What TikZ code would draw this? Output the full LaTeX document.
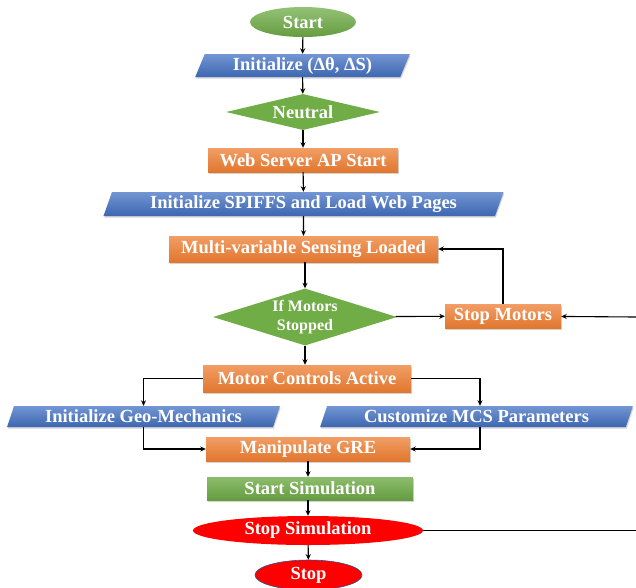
\documentclass[tikz,border=0pt]{standalone}
\usepackage{fontspec}
\setmainfont{Liberation Serif}
\usetikzlibrary{shapes.geometric,arrows.meta,shadows}
\definecolor{cgreen}{HTML}{70AD47}
\definecolor{cblue}{HTML}{4472C4}
\definecolor{corange}{HTML}{ED7D31}
\definecolor{cred}{HTML}{FF0000}
\tikzset{
  lbl/.style={text=white, font=\bfseries\fontsize{18.5}{20}\selectfont, inner sep=0pt},
  shad/.style={drop shadow={opacity=0.35, shadow xshift=0.8pt, shadow yshift=-1.5pt}},
  gbox/.style={lbl, shad, rectangle, top color=cgreen!80!white, bottom color=cgreen!90!black},
  obox/.style={lbl, shad, rectangle, top color=corange!75!white, bottom color=corange!95!black},
  para/.style={lbl, shad, trapezium, trapezium stretches=true, trapezium left angle=68, trapezium right angle=112, top color=cblue!75!white, bottom color=cblue!90!black},
  gdia/.style={lbl, diamond, fill=cgreen},
  gell/.style={lbl, ellipse, top color=cgreen!75!white, bottom color=cgreen!90!black},
  rell/.style={lbl, ellipse, fill=cred},
  arr/.style={draw=black, line width=1.1pt, -{Stealth[length=5.5pt,width=5pt]}},
  ln/.style={draw=black, line width=1.1pt}
}
\begin{document}
\begin{tikzpicture}[x=1pt,y=-1pt]
\useasboundingbox (0,0) rectangle (636,587);
\node[gell, minimum width=106, minimum height=30] (start) at (303,22) {Start};
\node[para, minimum width=215, minimum height=23] (init) at (302.5,65.5) {Initialize (Δθ, ΔS)};
\node[gdia, minimum width=154, minimum height=36, aspect=4.3] (neutral) at (303,112) {Neutral};
\node[obox, minimum width=190, minimum height=24] (web) at (303,160) {Web Server AP Start};
\node[para, minimum width=401, minimum height=24] (spiffs) at (303.5,204) {Initialize SPIFFS and Load Web Pages};
\node[obox, minimum width=269, minimum height=26] (multi) at (303.5,249) {Multi-variable Sensing Loaded};
\node[gdia, minimum width=184, minimum height=57, aspect=3.2, align=center, font=\bfseries\fontsize{16}{19}\selectfont] (ifm) at (305,317) {If Motors\\Stopped};
\node[obox, minimum width=116, minimum height=24] (stopm) at (503,316) {Stop Motors};
\node[obox, minimum width=208, minimum height=27] (mca) at (307,378.5) {Motor Controls Active};
\node[para, minimum width=273, minimum height=21] (geo) at (143.5,416.5) {Initialize Geo-Mechanics};
\node[para, minimum width=313, minimum height=21] (mcs) at (476.5,416.5) {Customize MCS Parameters};
\node[obox, minimum width=204, minimum height=24] (gre) at (308,449) {Manipulate GRE};
\node[gbox, minimum width=206, minimum height=23] (sim) at (310,488.5) {Start Simulation};
\node[rell, minimum width=230, minimum height=29] (ssim) at (308,530.5) {Stop Simulation};
\node[rell, draw=cblue!70!black, line width=0.6pt, minimum width=107, minimum height=30] (stop) at (308.5,575) {Stop};
\coordinate (e1) at (636,317);
\coordinate (e2) at (636,530.5);
\coordinate (c2) at (480,378.5);
\draw[arr] (start) -- (init);
\draw[arr] (init) -- (neutral);
\draw[arr] (neutral) -- (web);
\draw[arr] (web) -- (spiffs);
\draw[arr] (spiffs) -- (multi);
\draw[arr] (multi.south -| ifm) -- (ifm);
\draw[arr] (ifm) -- (stopm);
\draw[arr] (e1) -- (stopm);
\draw[arr] (stopm.north) |- (multi.east);
\draw[arr] (ifm) -- (ifm |- mca.north);
\draw[arr] (mca.west) -| (geo.north);
\draw[arr] (mca.east) -| (c2) -- (c2 |- mcs.north);
\draw[arr] (geo.south) |- (gre.west);
\draw[arr] (c2 |- mcs.south) |- (gre.east);
\draw[arr] (gre) -- (gre |- sim.north);
\draw[arr] (gre |- sim.south) -- (ssim);
\draw[arr] (ssim) -- (stop);
\draw[ln] (ssim.east) -- (e2);
\end{tikzpicture}
\end{document}
